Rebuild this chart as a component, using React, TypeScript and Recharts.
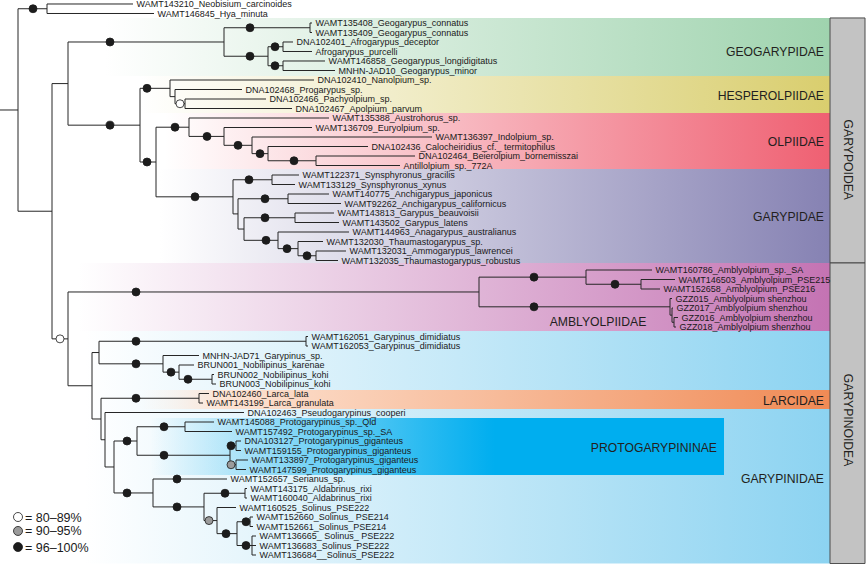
import React from 'react';
import { ComposedChart, XAxis, YAxis, ReferenceLine, ReferenceArea, Scatter } from 'recharts';

// ---------- DATA ----------
const tipNames = [
  'WAMT143210_Neobisium_carcinoides',
  'WAMT146845_Hya_minuta',
  'WAMT135408_Geogarypus_connatus',
  'WAMT135409_Geogarypus_connatus',
  'DNA102401_Afrogarypus_deceptor',
  'Afrogarypus_purcelli',
  'WAMT146858_Geogarypus_longidigitatus',
  'MNHN-JAD10_Geogarypus_minor',
  'DNA102410_Nanolpium_sp.',
  'DNA102468_Progarypus_sp.',
  'DNA102466_Pachyolpium_sp.',
  'DNA102467_Apolpium_parvum',
  'WAMT135388_Austrohorus_sp.',
  'WAMT136709_Euryolpium_sp.',
  'WAMT136397_Indolpium_sp.',
  'DNA102436_Calocheiridius_cf._ termitophilus',
  'DNA102464_Beierolpium_bornemisszai',
  'Antillolpium_sp._772A',
  'WAMT122371_Synsphyronus_gracilis',
  'WAMT133129_Synsphyronus_xynus',
  'WAMT140775_Anchigarypus_japonicus',
  'WAMT92262_Anchigarypus_californicus',
  'WAMT143813_Garypus_beauvoisii',
  'WAMT143502_Garypus_latens',
  'WAMT144963_Anagarypus_australianus',
  'WAMT132030_Thaumastogarypus_sp.',
  'WAMT132031_Ammogarypus_lawrencei',
  'WAMT132035_Thaumastogarypus_robustus',
  'WAMT160786_Amblyolpium_sp._SA',
  'WAMT146503_Amblyolpium_PSE215',
  'WAMT152658_Amblyolpium_PSE216',
  'GZZ015_Amblyolpium shenzhou',
  'GZZ017_Amblyolpium shenzhou',
  'GZZ016_Amblyolpium shenzhou',
  'GZZ018_Amblyolpium shenzhou',
  'WAMT162051_Garypinus_dimidiatus',
  'WAMT162053_Garypinus_dimidiatus',
  'MNHN-JAD71_Garypinus_sp.',
  'BRUN001_Nobilipinus_karenae',
  'BRUN002_Nobilipinus_kohi',
  'BRUN003_Nobilipinus_kohi',
  'DNA102460_Larca_lata',
  'WAMT143199_Larca_granulata',
  'DNA102463_Pseudogarypinus_cooperi',
  'WAMT145088_Protogarypinus_sp._Qld',
  'WAMT157492_Protogarypinus_sp._SA',
  'DNA103127_Protogarypinus_giganteus',
  'WAMT159155_Protogarypinus_giganteus',
  'WAMT133897_Protogarypinus_giganteus',
  'WAMT147599_Protogarypinus_giganteus',
  'WAMT152657_Serianus_sp.',
  'WAMT143175_Aldabrinus_rixi',
  'WAMT160040_Aldabrinus_rixi',
  'WAMT160525_Solinus_PSE222',
  'WAMT152660_Solinus_ PSE214',
  'WAMT152661_Solinus_PSE214',
  'WAMT136665_ Solinus_ PSE222',
  'WAMT136683_Solinus_PSE222',
  'WAMT136684__Solinus_PSE222',
];

const tipDepths = [
  133, 154, 312, 312, 293, 312, 325, 335, 314, 242, 266, 292, 329, 312, 432, 368, 415, 400,
  299, 295, 329, 341, 334, 339, 349, 323, 346, 338, 652, 675, 660, 672, 673, 678, 676, 308,
  308, 199, 194, 214, 216, 209, 203, 244, 214, 232, 241, 241, 248, 246, 227, 247, 247, 236,
  253, 253, 256, 256, 256,
];

const tipParents = [
  'Out', 'Out', 'Geo1', 'Geo1', 'Afro', 'Afro', 'Geo3', 'Geo3', 'H0', 'H1', 'H2', 'H2',
  'O0', 'O1', 'O2', 'O3', 'O4', 'O4', 'Syn', 'Syn', 'Anchi', 'Anchi', 'Garypus', 'Garypus',
  'G3', 'G4', 'G5', 'G5', 'A1', 'A2', 'A2', 'A3', 'A4', 'A5', 'A5', 'GD', 'GD', 'GN2', 'GN3',
  'GN4', 'GN4', 'Larca', 'Larca', 'L3', 'P1', 'P1', 'P3', 'P3', 'P4', 'P4', 'S0', 'Ald', 'Ald',
  'S2', 'S4', 'S4', 'S5', 'S5', 'S5',
];

const nodeIds = [
  'root', 'Out', 'Ing', 'Gpoid', 'Geo0', 'Geo1', 'Geo2', 'Afro', 'Geo3', 'HOG', 'H0', 'H1', 'H2',
  'OG', 'O0', 'O1', 'O2', 'O3', 'O4', 'G0', 'Syn', 'G1', 'Anchi', 'G2', 'Garypus', 'G3', 'G4', 'G5',
  'Gpin', 'A0', 'A1', 'A2', 'A3', 'A4', 'A5', 'L1', 'GN', 'GD', 'GN2', 'GN3', 'GN4', 'L2', 'Larca',
  'L3', 'L4', 'P0', 'S0', 'P1', 'P2', 'P3', 'P4', 'S1', 'Ald', 'S2', 'S3', 'S4', 'S5',
];

const nodeParents = [
  null, 'root', 'root', 'Ing', 'Gpoid', 'Geo0', 'Geo0', 'Geo2', 'Geo2', 'Gpoid', 'HOG', 'H0', 'H1',
  'HOG', 'OG', 'O0', 'O1', 'O2', 'O3', 'OG', 'G0', 'G0', 'G1', 'G1', 'G2', 'G2', 'G3', 'G4',
  'Ing', 'Gpin', 'A0', 'A1', 'A0', 'A3', 'A4', 'Gpin', 'L1', 'GN', 'GN', 'GN2', 'GN3', 'L1', 'L2',
  'L2', 'L3', 'L4', 'L4', 'P0', 'P0', 'P2', 'P2', 'S0', 'S1', 'S1', 'S2', 'S3', 'S3',
];

const nodeDepths = [
  18, 47, 52, 68, 224, 310, 268, 283, 283, 140, 170, 175, 185,
  156, 189, 224, 252, 268, 316, 233, 272, 238, 288, 244, 295, 278, 298, 316,
  68, 479, 586, 641, 670, 672, 674, 92, 99, 306, 163, 179, 212, 101, 199,
  105, 114, 137, 153, 185, 230, 236, 236, 204, 245, 217, 237, 250, 252,
];

// support: 0 = 80–89%, 1 = 90–95%, 2 = 96–100%
const supportTargets = [
  'Out', 'Geo0', 'Geo1', 'Geo2', 'Afro', 'Geo3', 'HOG', 'H0', 'H2', 'OG', 'O0', 'O1', 'O2', 'O3',
  'O4', 'G0', 'Syn', 'Anchi', 'Garypus', 'G3', 'G4', 'G5', 'Gpin', 'A0', 'A1', 'A2', 'A3', 'GD',
  'GN2', 'GN3', 'GN4', 'Larca', 'P0', 'S0', 'P1', 'P2', 'P3', 'P4', 'WAMT152657_Serianus_sp.',
  'S1', 'Ald', 'S2', 'S3', 'S4', 'S5',
];
const supportLevels = [
  2, 2, 2, 2, 2, 2, 2, 2, 0, 2, 2, 2, 2, 2,
  2, 2, 2, 2, 2, 2, 2, 2, 0, 2, 2, 2, 2, 2,
  2, 2, 2, 2, 2, 2, 2, 2, 2, 1, 2,
  2, 2, 1, 2, 2, 2,
];
const supportDepths = [
  33, 110, 250, 250, 275, 275, 110, 147, 180, 147, 175, 207, 238, 260,
  294, 195, 249, 265, 265, 266, 287, 307, 60, 136, 534, 615, 534, 136,
  136, 171, 188, 136, 127, 127, 164, 164, 231, 231, 177,
  177, 225, 209, 226, 246, 246,
];

const levelLabels = ['80–89%', '90–95%', '96–100%'];
const legendRows = [54.0, 55.47, 57.16];

const cladeNames = ['GARYPINIDAE', 'GEOGARYPIDAE', 'HESPEROLPIIDAE', 'OLPIIDAE', 'GARYPIDAE', 'AMBLYOLPIIDAE', 'LARCIDAE', 'PROTOGARYPININAE'];
const cladeTopRows = [34.42, 1.47, 7.58, 11.47, 17.37, 27.26, 40.63, 43.58];
const cladeBottomRows = [58.9, 7.58, 11.47, 17.37, 27.26, 34.42, 42.63, 49.58];
const cladeLabelRows = [50.0, 5.05, 9.68, 14.53, 22.4, 33.4, 41.7, 46.7];

const superNames = ['GARYPOIDEA', 'GARYPINOIDEA'];
const superTopRows = [1.47, 27.26];
const superBottomRows = [27.26, 58.9];
const superLabelRows = [16.4, 43.8];

// ---------- STYLE ----------
const cladeStyle: Record<string, { from: number; to: number; start: string; color: string; startOpacity: number; labelX: number; anchor: string; solid: number }> = {
  GEOGARYPIDAE: { from: 105, to: 830, start: '#ffffff', startOpacity: 1, color: '#9fd3ae', labelX: 824, anchor: 'end', solid: 1 },
  HESPEROLPIIDAE: { from: 140, to: 830, start: '#ffffff', startOpacity: 1, color: '#d9ce6e', labelX: 824, anchor: 'end', solid: 1 },
  OLPIIDAE: { from: 165, to: 830, start: '#ffffff', startOpacity: 1, color: '#ef6072', labelX: 824, anchor: 'end', solid: 1 },
  GARYPIDAE: { from: 160, to: 830, start: '#ffffff', startOpacity: 1, color: '#8682b3', labelX: 824, anchor: 'end', solid: 1 },
  AMBLYOLPIIDAE: { from: 78, to: 830, start: '#ffffff', startOpacity: 1, color: '#c473b3', labelX: 598, anchor: 'middle', solid: 1 },
  GARYPINIDAE: { from: 85, to: 830, start: '#ffffff', startOpacity: 1, color: '#8cd3f1', labelX: 824, anchor: 'end', solid: 1 },
  LARCIDAE: { from: 140, to: 830, start: '#fdeee4', startOpacity: 0, color: '#f08a55', labelX: 824, anchor: 'end', solid: 1 },
  PROTOGARYPININAE: { from: 150, to: 724, start: '#00aeef', startOpacity: 0, color: '#00aeef', labelX: 717, anchor: 'end', solid: 0.6 },
};
const levelFill = ['#ffffff', '#9b9b9b', '#1c1c1c'];
const LINE = '#262626';
const FONT = "'Liberation Sans', Arial, Helvetica, sans-serif";

// ---------- LAYOUT FROM DATA ----------
function buildTree() {
  const x: Record<string, number> = {};
  const y: Record<string, number> = {};
  const parent: Record<string, string | null> = {};
  const kids: Record<string, string[]> = {};
  tipNames.forEach((n, i) => { x[n] = tipDepths[i]; y[n] = i; parent[n] = tipParents[i]; });
  nodeIds.forEach((n, i) => { x[n] = nodeDepths[i]; parent[n] = nodeParents[i]; });
  [...tipNames, ...nodeIds].forEach((n) => {
    const p = parent[n];
    if (p) (kids[p] = kids[p] || []).push(n);
  });
  const rowOf = (n: string): number => {
    if (y[n] !== undefined) return y[n];
    const rows = kids[n].map(rowOf);
    y[n] = (Math.min(...rows) + Math.max(...rows)) / 2;
    return y[n];
  };
  nodeIds.forEach(rowOf);
  const segs: { key: string; a: { x: number; y: number }; b: { x: number; y: number } }[] = [];
  [...tipNames, ...nodeIds].forEach((n) => {
    const p = parent[n];
    segs.push({ key: 'h-' + n, a: { x: p ? x[p] : 0, y: y[n] }, b: { x: x[n], y: y[n] } });
  });
  nodeIds.forEach((n) => {
    const rows = kids[n].map((k) => y[k]);
    segs.push({ key: 'v-' + n, a: { x: x[n], y: Math.min(...rows) }, b: { x: x[n], y: Math.max(...rows) } });
  });
  return { x, y, segs };
}

const tree = buildTree();

const tipData = tipNames.map((n, i) => ({ x: tipDepths[i], y: i, name: n }));
const supportData = supportTargets.map((t, i) => ({ x: supportDepths[i], y: tree.y[t], level: supportLevels[i] }));
const cladeLabelData = cladeNames.map((n, i) => ({ x: cladeStyle[n].labelX, y: cladeLabelRows[i], name: n, anchor: cladeStyle[n].anchor }));
const superLabelData = superNames.map((n, i) => ({ x: 848, y: superLabelRows[i], name: n }));
const legendData = levelLabels.map((l, i) => ({ x: 18, y: legendRows[i], level: i, text: '= ' + l }));

const TipLabel = (p: any) => (
  <text x={p.cx + 3.5} y={p.cy} dy="0.34em" fontSize={9} fill="#1a1a1a" fontFamily={FONT}>
    {p.payload.name}
  </text>
);
const SupportDot = (p: any) => (
  <circle cx={p.cx} cy={p.cy} r={4} fill={levelFill[p.payload.level]} stroke="#1c1c1c" strokeWidth={0.8} />
);
const CladeLabel = (p: any) => (
  <text x={p.cx} y={p.cy} dy="0.36em" fontSize={12.2} fill="#231f20" textAnchor={p.payload.anchor} fontFamily={FONT}>
    {p.payload.name}
  </text>
);
const SuperLabel = (p: any) => (
  <text x={p.cx} y={p.cy} dy="0.36em" fontSize={12.2} fill="#231f20" textAnchor="middle" fontFamily={FONT}
    transform={`rotate(90, ${p.cx}, ${p.cy})`}>
    {p.payload.name}
  </text>
);
const LegendItem = (p: any) => (
  <g>
    <circle cx={p.cx} cy={p.cy} r={4.5} fill={levelFill[p.payload.level]} stroke="#1c1c1c" strokeWidth={0.8} />
    <text x={p.cx + 7} y={p.cy} dy="0.36em" fontSize={12.5} fill="#1a1a1a" fontFamily={FONT}>{p.payload.text}</text>
  </g>
);

export default function App() {
  return (
    <div style={{ position: 'absolute', left: 0, top: 0, width: 866, height: 564, background: '#fff', fontFamily: FONT }}>
      <ComposedChart width={866} height={564} margin={{ top: 0, right: 0, bottom: 0, left: 0 }}>
        <defs>
          {cladeNames.map((n) => (
            <linearGradient key={n} id={'grad-' + n} x1="0" y1="0" x2="1" y2="0">
              <stop offset="0" stopColor={cladeStyle[n].start} stopOpacity={cladeStyle[n].startOpacity} />
              {n === 'LARCIDAE' && <stop offset="0.12" stopColor="#fde3d2" stopOpacity={1} />}
              <stop offset={cladeStyle[n].solid} stopColor={cladeStyle[n].color} stopOpacity={1} />
              <stop offset="1" stopColor={cladeStyle[n].color} stopOpacity={1} />
            </linearGradient>
          ))}
        </defs>
        <XAxis type="number" dataKey="x" domain={[0, 866]} hide />
        <YAxis type="number" dataKey="y" domain={[-0.421, 58.947]} reversed hide />

        {cladeNames.map((n, i) => (
          <ReferenceArea key={'band-' + n} x1={cladeStyle[n].from} x2={cladeStyle[n].to}
            y1={cladeTopRows[i]} y2={cladeBottomRows[i]} fill={`url(#grad-${n})`} fillOpacity={1}
            stroke="none" ifOverflow="visible" />
        ))}
        {superNames.map((n, i) => (
          <ReferenceArea key={'sup-' + n} x1={830} x2={865} y1={superTopRows[i]} y2={superBottomRows[i]}
            fill="#c3c3c3" fillOpacity={1} stroke="#4a4a4a" strokeWidth={1} ifOverflow="visible" />
        ))}

        {tree.segs.map((s) => (
          <ReferenceLine key={s.key} segment={[s.a, s.b]} stroke={LINE} strokeWidth={1} ifOverflow="visible" />
        ))}

        <Scatter data={cladeLabelData} shape={CladeLabel} isAnimationActive={false} />
        <Scatter data={superLabelData} shape={SuperLabel} isAnimationActive={false} />
        <Scatter data={tipData} shape={TipLabel} isAnimationActive={false} />
        <Scatter data={supportData} shape={SupportDot} isAnimationActive={false} />
        <Scatter data={legendData} shape={LegendItem} isAnimationActive={false} />
      </ComposedChart>
    </div>
  );
}
